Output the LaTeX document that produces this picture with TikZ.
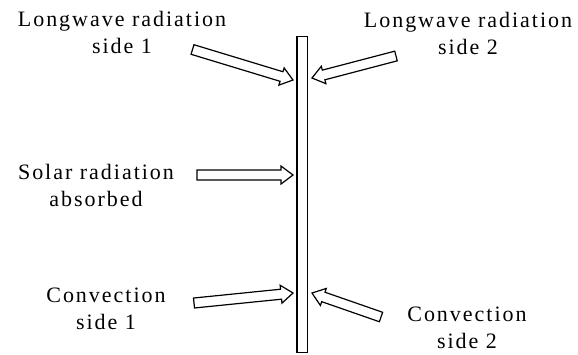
\documentclass[tikz,border=0pt]{standalone}
\usepackage{fontspec}
\setmainfont{Liberation Serif}[Scale=1.0]
\usetikzlibrary{calc}
\tikzset{
  lbl/.style={align=center, inner sep=0pt, anchor=south, font=\fontsize{22}{27}\selectfont\addfontfeature{LetterSpace=9}},
  plateline/.style={draw=black, line width=1.3pt},
  barrow/.style={draw=black, line width=1.2pt, line join=miter, fill=white},
}
\newcommand\blockarr[2]{%
  \draw[barrow] ($(#1)!5pt!90:(#2)$)
    -- ($($(#2)!12pt!(#1)$)!5pt!90:(#2)$)
    -- ($($(#2)!12pt!(#1)$)!9pt!90:(#2)$)
    -- (#2)
    -- ($($(#2)!12pt!(#1)$)!9pt!-90:(#2)$)
    -- ($($(#2)!12pt!(#1)$)!5pt!-90:(#2)$)
    -- ($(#1)!5pt!-90:(#2)$) -- cycle;}
\begin{document}
\begin{tikzpicture}[x=1pt,y=-1pt]
\useasboundingbox (0,0) rectangle (578,354);
% plate
\node[plateline, minimum width=10.5pt, minimum height=316pt, inner sep=0pt] (plate) at (302.25,194.25) {};
% labels
\node[lbl] (lw1) at (122,54) {Longwave radiation\\side 1};
\node[lbl] (lw2) at (468,55) {Longwave radiation\\side 2};
\node[lbl] (sol) at (96,207) {Solar radiation\\absorbed};
\node[lbl] (cv1) at (106,330) {Convection\\side 1};
\node[lbl] (cv2) at (467,349) {Convection\\side 2};
% arrow end points
\coordinate (lw1t) at (192.5,49.5);
\coordinate (lw1p) at (293,80);
\coordinate (lw2t) at (396,56);
\coordinate (lw2p) at (312,78);
\coordinate (solt) at (197,175);
\coordinate (solp) at (293,175);
\coordinate (cv1t) at (194,303);
\coordinate (cv1p) at (293,293);
\coordinate (cv2t) at (381,317);
\coordinate (cv2p) at (312,293);
\blockarr{lw1t}{lw1p}
\blockarr{lw2t}{lw2p}
\blockarr{solt}{solp}
\blockarr{cv1t}{cv1p}
\blockarr{cv2t}{cv2p}
\end{tikzpicture}
\end{document}
